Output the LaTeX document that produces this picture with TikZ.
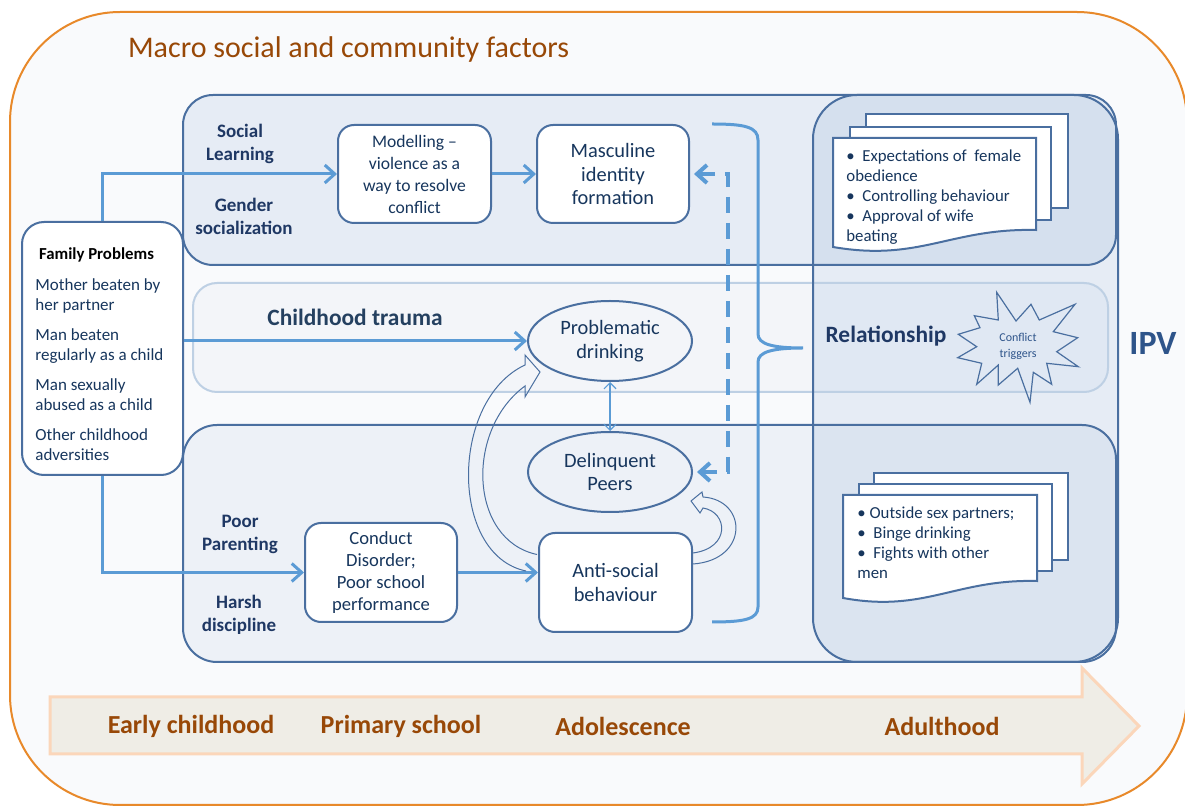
\documentclass[tikz,border=0pt]{standalone}
\usepackage{fontspec}
\setmainfont{Carlito}
\usepackage{tikz}
\usetikzlibrary{shapes.geometric}
\usetikzlibrary{arrows.meta}
\usetikzlibrary{calc}
\usepackage{xcolor}
\definecolor{lineBlue}{RGB}{91,155,213}
\definecolor{boxBlue}{RGB}{74,111,160}
\definecolor{textBlue}{RGB}{23,54,93}
\definecolor{labelBlue}{RGB}{31,56,100}
\definecolor{traumaBlue}{RGB}{36,64,96}
\definecolor{ipvBlue}{RGB}{46,84,138}
\definecolor{panelBlue}{RGB}{79,129,189}
\definecolor{bandLine}{RGB}{190,208,228}
\definecolor{macroOrange}{RGB}{232,137,42}
\definecolor{macroBrown}{RGB}{152,72,7}
\definecolor{timeFill}{RGB}{239,237,230}
\definecolor{timeLine}{RGB}{251,214,186}
\definecolor{bgWhite}{RGB}{249,250,252}
\newcommand{\bodysize}{\fontsize{8.8}{11}\selectfont}
\newcommand{\bigsize}{\fontsize{10.2}{11.75}\selectfont}
\tikzset{
  box/.style={draw=boxBlue, line width=1pt, fill=white, rounded corners=8pt,
    align=center, text=textBlue, font=\bodysize, inner sep=0pt},
  oval/.style={ellipse, draw=boxBlue, line width=1pt, align=center, text=textBlue,
    font=\bigsize, inner sep=0pt, minimum width=82pt, minimum height=40pt},
  conn/.style={lineBlue, line width=1.5pt, -{Straight Barb[length=5pt,width=9pt]}},
  lbl/.style={font=\bfseries\fontsize{9.5}{11.5}\selectfont, text=labelBlue, align=center},
  blockarrow/.style={draw=boxBlue, line width=0.5pt},
  page/.style={draw=boxBlue, line width=1pt, fill=white},
  pagetext/.style={anchor=north west, inner sep=0pt, align=left, text=textBlue,
    font=\fontsize{8.4}{10}\selectfont},
  timelbl/.style={font=\bfseries\fontsize{13}{15}\selectfont, text=macroBrown},
}

\begin{document}
\begin{tikzpicture}[x=0.5pt,y=-0.5pt]

%%%%%%%%%%%%%%%%%%%%%%%%%%%%%%%%%%%%%%%%%%%%%%%%%%%%%%%%%%%%%% Setup
\useasboundingbox (0,0) rectangle (1185,807);
\draw[macroOrange, line width=1pt, fill=bgWhite, rounded corners=55pt] (10,12) rectangle (1187,805);
\node[anchor=west, font=\fontsize{15}{18}\selectfont, text=macroBrown] (macro) at (121,50) {Macro social and community factors};

%%%%%%%%%%%%%%%%%%%%%%%%%%%%%%%%%%%%%%%%%%%%%%%%%%%%%%%%%%%%%% Panels
\fill[panelBlue, fill opacity=0.11, rounded corners=15pt] (183,95) rectangle (1116,265);
\fill[panelBlue, fill opacity=0.065, rounded corners=17pt] (183,425) rectangle (1116,662);
\fill[panelBlue, fill opacity=0.11, rounded corners=22pt] (813,95) rectangle (1118,662);
\draw[bandLine, line width=1pt, fill=panelBlue, fill opacity=0.035, rounded corners=12pt] (193,283) rectangle (1108,392);
\draw[boxBlue, line width=1pt, rounded corners=15pt] (183,95) rectangle (1116,265);
\draw[boxBlue, line width=1pt, rounded corners=17pt] (183,425) rectangle (1116,662);
\draw[boxBlue, line width=1pt, rounded corners=22pt] (813,95) rectangle (1118,662);

%%%%%%%%%%%%%%%%%%%%%%%%%%%%%%%%%%%%%%%%%%%%%%%%%%%%%%%%%%%%%% Family problems
\node[box, minimum width=80.5pt, minimum height=126.5pt, rounded corners=11pt] (fam) at (102.5,348.5) {};
\node[font=\bfseries\fontsize{8.4}{10}\selectfont] (famtitle) at (96.5,255) {Family Problems};
\node[anchor=north west, inner sep=0pt, align=left, text=textBlue, font=\fontsize{8.5}{10}\selectfont] (famtext) at (35,278)
  {Mother beaten by\\her partner\\[5pt]Man beaten\\regularly as a child\\[5pt]Man sexually\\abused as a child\\[5pt]Other childhood\\adversities};

%%%%%%%%%%%%%%%%%%%%%%%%%%%%%%%%%%%%%%%%%%%%%%%%%%%%%%%%%%%%%% Labels
\node[lbl] (social) at (240,144) {Social\\Learning};
\node[lbl] (gender) at (244,216) {Gender\\socialization};
\node[lbl] (poor) at (240,534) {Poor\\Parenting};
\node[lbl] (harsh) at (239,615) {Harsh\\discipline};
\node[font=\bfseries\fontsize{11.7}{14}\selectfont, text=traumaBlue] (trauma) at (355,317) {Childhood trauma};

%%%%%%%%%%%%%%%%%%%%%%%%%%%%%%%%%%%%%%%%%%%%%%%%%%%%%%%%%%%%%% Boxes
\node[box, minimum width=76.5pt, minimum height=49pt] (model) at (414.5,174) {Modelling --\\violence as a\\way to resolve\\conflict};
\node[box, font=\bigsize, minimum width=76pt, minimum height=49pt] (masc) at (613,174) {Masculine\\identity\\formation};
\node[box, font=\fontsize{9.3}{11}\selectfont, minimum width=76pt, minimum height=49.5pt] (conduct) at (381,572.5) {Conduct\\Disorder;\\Poor school\\performance};
\node[box, font=\bigsize, minimum width=76.5pt, minimum height=49.5pt] (anti) at (615.5,582.5) {Anti-social\\behaviour};
\node[oval] (drink) at (610,341) {Problematic\\drinking};
\node[oval] (delin) at (610,472) {Delinquent\\Peers};

%%%%%%%%%%%%%%%%%%%%%%%%%%%%%%%%%%%%%%%%%%%%%%%%%%%%%%%%%%%%%% Connectors
\draw[conn] (fam.north) |- (model.west);
\draw[conn] (fam.east |- drink.west) -- (drink.west);
\draw[conn] (fam.south) |- (conduct.west);
\draw[conn] (model) -- (masc);
\draw[conn] (conduct.east) -- (conduct.east -| anti.west);
\draw[lineBlue, line width=0.6pt, {Straight Barb[length=3pt,width=6pt]}-{Straight Barb[length=3pt,width=6pt]}] (drink.south) -- (delin.north);
\draw[lineBlue, line width=2pt, dash pattern=on 8pt off 5pt,
  {Straight Barb[length=5pt,width=9pt]}-{Straight Barb[length=5pt,width=9pt]}]
  ([xshift=2pt]masc.east) -- ++(34,0) |- ([xshift=2pt]delin.east);

% hollow curved arrows
\draw[blockarrow] ($(anti.west)+(-1,-28)$) .. controls +(-68,-14.5) and +(-60,44) .. ($(drink.center)+(-85,45)$)
  -- ++(0,11) -- ($(drink.center)+(-70,31)$) -- ($(drink.center)+(-85,14)$) -- ++(0,10)
  .. controls +(-75,35) and +(-77,-16) .. ($(anti.west)+(-12,-11.5)$);
\draw[blockarrow] ($(anti.east)+(0,-29.5)$) .. controls +(38,-5) and +(25,4) .. ($(delin.center)+(93,36)$)
  -- ++(-3,5) -- ($(delin.center)+(81,29)$) -- ($(delin.center)+(92,20)$) -- ++(1,5)
  .. controls +(45,3) and +(56,-4) .. ($(anti.east)+(0,-18.5)$);

% brace
\draw[lineBlue, line width=1.5pt] (712,124) .. controls (745,124) and (758,127) .. (758,140) -- (758,334)
  .. controls (758,344) and (772,348) .. (803,348) .. controls (772,348) and (758,352) .. (758,362)
  -- (758,607) .. controls (758,619) and (745,622) .. (712,622);

%%%%%%%%%%%%%%%%%%%%%%%%%%%%%%%%%%%%%%%%%%%%%%%%%%%%%%%%%%%%%% Relationship
\draw[page] (866,114) rectangle (1068,208);
\draw[page] (850,127) rectangle (1051,220);
\draw[page] (833,138) -- (1036,138) -- (1036,230) .. controls (950,228) and (920,262) .. (833,247) -- cycle;
\node[pagetext] (expect) at (846,149) {\textbullet\ \ Expectations of\ \ female\\obedience\\\textbullet\ \ Controlling behaviour\\\textbullet\ \ Approval of wife\\beating};

\node[font=\bfseries\fontsize{11.7}{14}\selectfont, text=labelBlue] (rel) at (886,336) {Relationship};
% explosion
\draw[boxBlue, line width=0.6pt] (996.7,292.3) -- (1016,321) -- (1031,304.3) -- (1039.3,320) -- (1075,304.3)
  -- (1053.3,331.7) -- (1077.7,337.7) -- (1056.7,351.7) -- (1078.3,366.7) -- (1046.7,363.3)
  -- (1051.7,384.3) -- (1033.3,372.3) -- (1030,402.3) -- (1017.7,368.3) -- (998.3,385)
  -- (998.3,365) -- (976.7,384.3) -- (981.7,363.3) -- (957.7,357.7) -- (976.7,346.7)
  -- (958.3,334.3) -- (980,327.7) -- (974.3,315.7) -- (998.3,320) -- cycle;
\node[align=center, inner sep=0pt, text=ipvBlue, font=\fontsize{6}{8}\selectfont] (trig) at (1018,346) {Conflict\\triggers};

\draw[page] (874,473) rectangle (1068,560);
\draw[page] (859,484) rectangle (1052,571);
\draw[page] (843,495) -- (1037,495) -- (1037,581) .. controls (955,579) and (925,613) .. (843,598) -- cycle;
\node[pagetext] (outside) at (857,506) {\textbullet\ Outside sex partners;\\\textbullet\ \ Binge drinking\\\textbullet\ \ Fights with other\\men};

\node[font=\bfseries\fontsize{17}{20}\selectfont, text=ipvBlue] (ipv) at (1153,343) {IPV};

%%%%%%%%%%%%%%%%%%%%%%%%%%%%%%%%%%%%%%%%%%%%%%%%%%%%%%%%%%%%%% Time line
\draw[timeLine, line width=1.5pt, fill=timeFill] (50,697) -- (1082,697) -- (1082,668) -- (1139,726)
  -- (1082,784) -- (1082,754) -- (50,754) -- cycle;
\node[timelbl] (early) at (191,726) {Early childhood};
\node[timelbl] (primary) at (401,726) {Primary school};
\node[timelbl] (adol) at (623,726) {Adolescence};
\node[timelbl] (adult) at (942,726) {Adulthood};

\end{tikzpicture}
\end{document}
